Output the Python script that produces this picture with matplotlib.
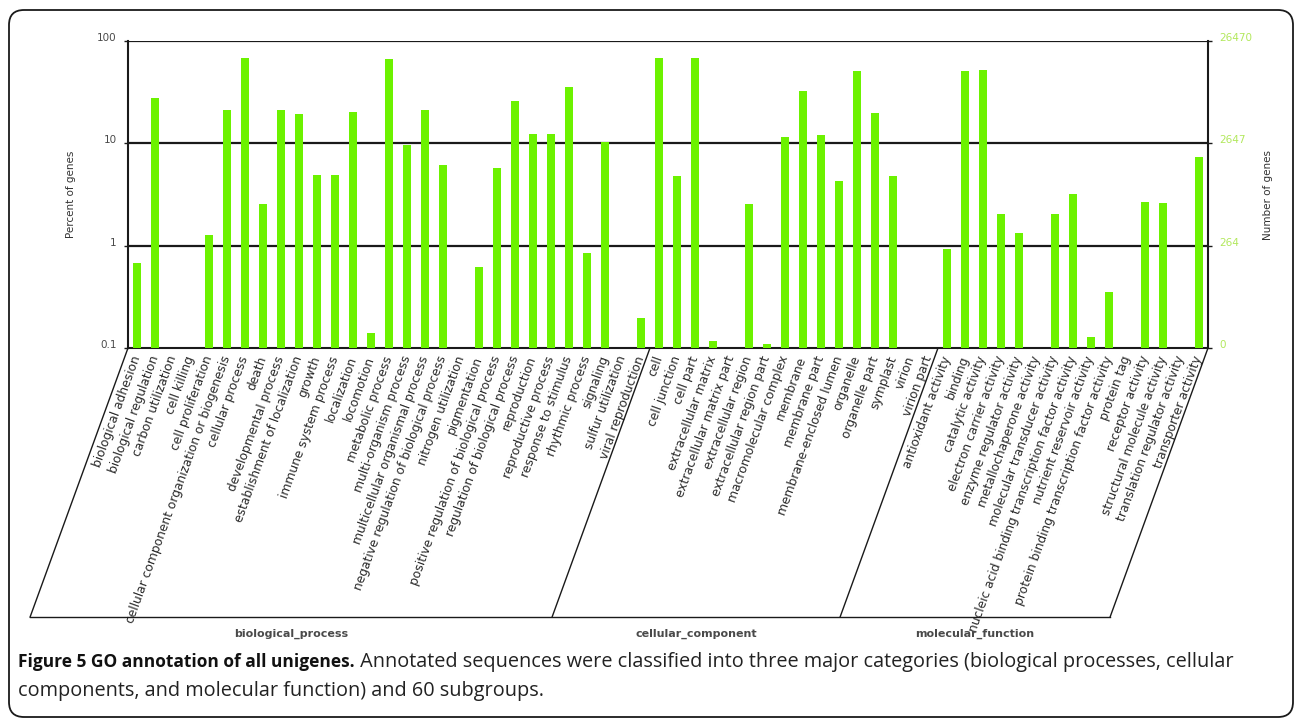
import numpy as np
import matplotlib
matplotlib.use("Agg")
import matplotlib.pyplot as plt
from matplotlib.patches import FancyBboxPatch
from matplotlib.lines import Line2D

# ---- data -------------------------------------------------------------
bp_terms = [
    "biological adhesion", "biological regulation", "carbon utilization",
    "cell killing", "cell proliferation",
    "cellular component organization or biogenesis", "cellular process",
    "death", "developmental process", "establishment of localization",
    "growth", "immune system process", "localization", "locomotion",
    "metabolic process", "multi-organism process",
    "multicellular organismal process",
    "negative regulation of biological process", "nitrogen utilization",
    "pigmentation", "positive regulation of biological process",
    "regulation of biological process", "reproduction",
    "reproductive process", "response to stimulus", "rhythmic process",
    "signaling", "sulfur utilization", "viral reproduction",
]
bp_percent = [
    0.68, 28, 0.004, 0.1, 1.27, 21, 68, 2.54, 21, 19.2,
    4.9, 4.9, 20.1, 0.14, 66, 9.6, 21, 6.2, 0.004, 0.62,
    5.8, 26, 12.4, 12.4, 35.9, 0.84, 10.4, 0.1, 0.195,
]

cc_terms = [
    "cell", "cell junction", "cell part", "extracellular matrix",
    "extracellular matrix part", "extracellular region",
    "extracellular region part", "macromolecular complex", "membrane",
    "membrane part", "membrane-enclosed lumen", "organelle",
    "organelle part", "symplast", "virion", "virion part",
]
cc_percent = [
    68, 4.8, 68, 0.117, 0.004, 2.54, 0.109, 11.6, 32.5, 12.1,
    4.3, 51, 20, 4.8, 0.004, 0.004,
]

mf_terms = [
    "antioxidant activity", "binding", "catalytic activity",
    "electron carrier activity", "enzyme regulator activity",
    "metallochaperone activity", "molecular transducer activity",
    "nucleic acid binding transcription factor activity",
    "nutrient reservoir activity",
    "protein binding transcription factor activity", "protein tag",
    "receptor activity", "structural molecule activity",
    "translation regulator activity", "transporter activity",
]
mf_percent = [
    0.935, 51.4, 51.5, 2.04, 1.32, 0.004, 2.04, 3.2, 0.127, 0.355,
    0.004, 2.67, 2.6, 0.004, 7.3,
]

group_names = ["biological_process", "cellular_component", "molecular_function"]

left_ticks = [0.1, 1, 10, 100]
left_tick_labels = ["0.1", "1", "10", "100"]
right_tick_labels = ["0", "264", "2647", "26470"]

caption_bold = "Figure 5 GO annotation of all unigenes."
caption_rest = (" Annotated sequences were classified into three major categories "
                "(biological processes, cellular")
caption_line2 = "components, and molecular function) and 60 subgroups."

# ---- figure -----------------------------------------------------------
W, H = 1295, 721
fig = plt.figure(figsize=(W / 100, H / 100), dpi=100)
fig.patch.set_facecolor("white")

terms = bp_terms + cc_terms + mf_terms
percent = bp_percent + cc_percent + mf_percent
groups = [bp_terms, cc_terms, mf_terms]
x = np.arange(len(terms))

ax = fig.add_axes([128 / W, 1 - 348 / H, 1080 / W, 307 / H])
ax.set_yscale("log")
ax.bar(x, percent, width=0.4, color="#6cf200", zorder=3)
ax.set_xlim(-0.5, len(terms) - 0.5)
ax.set_ylim(0.1, 100)

# horizontal guide lines at each decade
for yv in left_ticks[1:]:
    ax.axhline(yv, color="#1a1a1a", lw=1.6, zorder=2)

for side in ("left", "right", "bottom"):
    ax.spines[side].set_color("#1a1a1a")
    ax.spines[side].set_linewidth(1.5)
ax.spines["top"].set_visible(False)

ax.set_yticks(left_ticks)
ax.set_yticklabels(left_tick_labels)
ax.yaxis.set_minor_locator(matplotlib.ticker.NullLocator())
ax.tick_params(axis="y", direction="out", length=3, width=1, pad=5,
               labelsize=7.5, labelcolor="#4a4a4a", color="#1a1a1a")
for lab in ax.get_yticklabels():
    lab.set_va("baseline")
ax.set_ylabel("Percent of genes", fontsize=7.5, color="#333333", labelpad=15)

ax.set_xticks(x)
ax.set_xticklabels(terms, rotation=70, ha="right", va="center",
                   rotation_mode="anchor", fontsize=8.8, color="#2a2a2a")
ax.tick_params(axis="x", length=0, pad=6)

# secondary axis with gene counts
ax2 = ax.twinx()
ax2.set_yscale("log")
ax2.set_ylim(ax.get_ylim())
ax2.set_yticks(left_ticks)
ax2.set_yticklabels(right_tick_labels)
ax2.yaxis.set_minor_locator(matplotlib.ticker.NullLocator())
ax2.tick_params(axis="y", direction="out", length=3, width=1, pad=5,
                labelsize=7.5, labelcolor="#b2e85c", color="#1a1a1a")
for lab in ax2.get_yticklabels():
    lab.set_va("baseline")
for side in ("left", "right", "bottom", "top"):
    ax2.spines[side].set_visible(False)
ax2.set_ylabel("Number of genes", fontsize=7.5, color="#333333", labelpad=8)

# category brackets below the axis (slanted like the tick labels)
to_fig = fig.transFigure.inverted()
slant = np.tan(np.radians(70))
bottom_px = 617
bounds = [-0.5]
for g in groups:
    bounds.append(bounds[-1] + len(g))
tops = [ax.transData.transform((b, 0.1)) for b in bounds]
bottoms = []
for (tx, ty) in tops:
    dy = ty - (H - bottom_px)
    bottoms.append((tx - dy / slant, H - bottom_px))
for (tx, ty), (bx, by) in zip(tops, bottoms):
    p = to_fig.transform([(tx, ty), (bx, by)])
    fig.add_artist(Line2D(p[:, 0], p[:, 1], color="#1a1a1a", lw=1.0))
p = to_fig.transform([bottoms[0], bottoms[-1]])
fig.add_artist(Line2D(p[:, 0], p[:, 1], color="#1a1a1a", lw=1.0))
for name, b0, b1 in zip(group_names, bottoms[:-1], bottoms[1:]):
    cx = (b0[0] + b1[0]) / 2
    fig.text(cx / W, 1 - 634 / H, name, ha="center", va="center",
             fontsize=8, fontweight="bold", color="#4a4a4a")

# caption
cap_font = ["Open Sans", "DejaVu Sans"]
t1 = fig.text(18 / W, 1 - 667 / H, caption_bold, fontsize=12.5,
              fontweight="bold", family=cap_font, va="baseline", color="#111111")
renderer = fig.canvas.get_renderer()
bb = t1.get_window_extent(renderer=renderer)
fig.text(bb.x1 / W, 1 - 667 / H, caption_rest, fontsize=14.3,
         family=cap_font, va="baseline", color="#222222")
fig.text(18 / W, 1 - 696 / H, caption_line2, fontsize=14.3,
         family=cap_font, va="baseline", color="#222222")

# rounded frame around the whole figure
frame = FancyBboxPatch((0.09, 0.04), 12.84, 7.07,
                       boxstyle="round,pad=0,rounding_size=0.15",
                       transform=fig.dpi_scale_trans, fill=False,
                       edgecolor="#1a1a1a", lw=1.3)
fig.add_artist(frame)

fig.savefig("out.png", dpi=100, facecolor="white")
